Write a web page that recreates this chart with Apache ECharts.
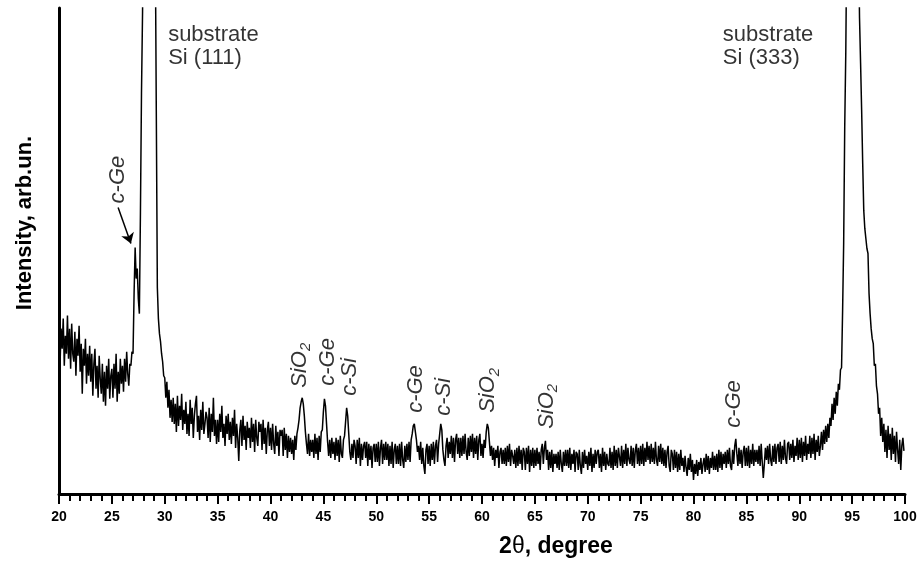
<!DOCTYPE html>
<html>
<head>
<meta charset="utf-8">
<script src="https://cdn.jsdelivr.net/npm/echarts@6/dist/echarts.min.js"></script>
<style>
html,body{margin:0;padding:0;background:#fff;}
#chart{width:924px;height:572px;}
</style>
</head>
<body>
<div id="chart"></div>
<script>
// XRD scan: 2θ from 20° in 0.1° steps, intensity in arbitrary units
const startAngle = 20;
const angleStep = 0.1;
const intensity = [
180,130,165,145,175,128,158,140,178,135,
165,125,170,140,132,162,118,155,138,168,
122,150,100,145,128,155,110,140,118,148,
112,140,98,130,145,105,128,96,138,115,
100,130,92,122,88,128,105,135,95,118,
125,96,130,105,140,92,122,100,135,110,
128,102,135,112,142,120,108,130,128,142,
140,200,246,215,225,195,180,280,400,480,
620,900,1300,1800,2500,3000,2600,2000,1400,1000,
800,560,383,206,175,160,152,140,132,118,
116,96,112,86,104,76,94,72,96,70,
90,62,98,68,88,74,100,64,84,70,
92,60,80,58,94,70,86,56,78,90,
98,62,78,54,84,64,92,60,70,82,
76,56,86,52,80,62,96,58,74,50,
74,52,80,62,88,56,70,48,78,60,
80,54,72,50,76,58,84,46,70,56,
33,64,74,48,78,54,68,44,72,56,
66,46,76,52,70,42,74,56,48,72,
62,70,44,74,50,66,40,64,72,48,
66,44,70,50,40,68,48,62,38,64,
58,64,38,66,44,60,36,58,42,56,
40,54,34,58,44,60,66,74,86,92,
96,90,78,62,50,40,60,38,54,42,
54,36,60,40,56,34,58,42,62,64,
82,95,88,70,52,38,54,36,56,40,
52,34,56,38,54,32,58,40,36,54,
58,72,86,78,60,42,34,50,36,54,
48,30,54,36,56,28,50,34,48,52,
36,52,28,50,34,48,26,46,50,32,
50,32,52,28,46,54,30,50,34,52,
34,50,28,48,30,52,26,44,50,30,
48,30,50,28,52,34,26,48,32,50,
34,52,32,54,60,68,70,62,54,42,
48,34,52,30,46,28,20,44,50,30,
48,28,50,34,52,30,48,54,32,50,
60,70,64,44,34,28,48,56,36,52,
40,58,36,56,32,54,60,40,56,36,
56,38,58,40,60,42,34,56,38,58,
42,60,36,56,40,58,34,54,60,38,
50,36,54,46,62,70,66,52,38,48,
34,46,28,44,36,48,26,42,46,30,
44,30,46,28,48,32,50,28,44,38,
30,44,26,46,28,48,30,44,24,46,
42,24,46,30,48,22,44,28,46,26,
44,28,46,30,42,24,44,50,30,46,
53,34,44,24,42,26,44,22,40,30,
40,26,42,24,44,30,22,42,28,44,
28,44,26,46,24,40,30,44,22,42,
40,24,44,28,20,42,26,44,30,38,
24,42,28,46,22,40,26,44,30,42,
44,26,40,22,46,28,42,24,40,30,
28,46,26,42,24,48,28,44,26,46,
46,28,48,26,44,30,50,28,46,34,
30,48,28,46,26,44,50,30,46,28,
48,30,50,28,46,32,52,34,48,30,
50,32,46,30,52,34,28,48,32,50,
30,46,28,44,26,42,48,28,22,44,
40,24,44,26,42,22,40,24,44,28,
36,22,38,26,18,36,24,40,22,34,
14,30,20,34,18,32,24,36,20,30,
36,22,40,24,38,20,36,26,42,24,
38,24,40,22,44,26,42,24,40,30,
42,26,44,30,46,28,24,44,30,48,
55,40,28,46,30,44,26,42,48,28,
46,28,48,26,44,30,50,28,44,32,
44,30,48,28,50,32,16,30,46,34,
48,30,50,34,28,48,32,50,30,46,
50,32,52,30,48,34,54,36,30,50,
52,34,50,36,54,32,48,38,56,34,
54,36,56,32,52,38,58,34,50,40,
58,36,56,40,60,34,54,42,58,38,
48,62,44,64,50,68,52,70,56,76,
68,90,74,96,80,102,88,110,104,124,
126,183,250,366,440,560,900,1500,2500,3500,
4000,3600,2800,2000,1300,800,560,475,430,383,
330,283,265,255,245,240,200,180,165,155,
150,128,130,108,100,80,86,58,76,52,
70,42,64,36,68,44,60,34,66,40,
58,32,62,44,30,54,24,48,56,43
];

// x axis ticks
const xMin = 20, xMax = 100, xMajor = 5;
const yMax = 485;

// peak annotations (rotated), anchored at the start of the text
const peakLabelText = ['c-Ge', 'SiO{s|2}', 'c-Ge', 'c-Si', 'c-Ge', 'c-Si', 'SiO{s|2}', 'SiO{s|2}', 'c-Ge'];
const peakLabelAngle = [25.6, 42.8, 45.4, 47.55, 53.7, 56.35, 60.6, 66.1, 83.8];
const peakLabelLevel = [290, 106, 108, 98, 81, 78, 81, 65, 66];

// substrate annotations
const substrateText = ['substrate\nSi (111)', 'substrate\nSi (333)'];
const substrateAngle = [30.32, 82.77];
const substrateLevel = [470, 470];

// arrow from c-Ge label to the c-Ge peak
const arrowFrom = [25.59, 286];
const arrowTo = [26.8, 250];

const lineData = intensity.map((v, i) => [+(startAngle + i * angleStep).toFixed(1), v]);

const FONT = '"Liberation Sans", Arial, sans-serif';

const chart = echarts.init(document.getElementById('chart'), null, {renderer: 'canvas'});
chart.setOption({
  animation: false,
  backgroundColor: '#fff',
  grid: {left: 59, right: 19, top: 8, bottom: 78, containLabel: false},
  xAxis: {
    type: 'value', min: xMin, max: xMax, interval: xMajor,
    axisLine: {show: true, lineStyle: {color: '#000', width: 3}},
    axisTick: {show: true, length: 10, lineStyle: {color: '#000', width: 2}},
    minorTick: {show: true, splitNumber: 5, length: 7, lineStyle: {color: '#000', width: 2}},
    axisLabel: {color: '#000', fontFamily: FONT, fontWeight: 'bold', fontSize: 14, margin: 16},
    splitLine: {show: false}
  },
  yAxis: {
    type: 'value', min: 0, max: yMax,
    axisLine: {show: true, lineStyle: {color: '#000', width: 3}},
    axisTick: {show: false},
    axisLabel: {show: false},
    splitLine: {show: false}
  },
  graphic: [
    {type: 'text', x: 25, y: 223, rotation: Math.PI / 2,
     style: {text: 'Intensity, arb.un.', font: 'bold 22px ' + FONT, fill: '#000', align: 'center', verticalAlign: 'middle'}},
    {type: 'text', x: 556, y: 547,
     style: {text: '{a|2}{t|θ}{a|, degree}', fill: '#000', align: 'center', verticalAlign: 'middle',
       rich: {a: {font: 'bold 23px ' + FONT, fill: '#000'}, t: {font: '23px ' + FONT, fill: '#000'}}}}
  ],
  series: [
    {
      type: 'line', data: lineData, showSymbol: false, symbol: 'none', clip: true,
      lineStyle: {color: '#000', width: 1.5}
    },
    {
      type: 'scatter', symbolSize: 1, itemStyle: {color: 'rgba(0,0,0,0)'}, silent: true,
      data: peakLabelAngle.map((a, i) => ({value: [a, peakLabelLevel[i]], name: peakLabelText[i]})),
      label: {
        show: true, position: 'inside', rotate: 90, align: 'left', verticalAlign: 'middle',
        formatter: p => p.name, color: '#000', fontFamily: FONT, fontStyle: 'italic', fontSize: 22,
        rich: {s: {fontFamily: FONT, fontStyle: 'italic', fontSize: 15, verticalAlign: 'bottom', padding: [12, 0, 0, 0], color: '#000'}}
      },
      markLine: {
        silent: true, animation: false,
        symbol: ['none', 'arrow'], symbolSize: 10,
        lineStyle: {color: '#000', width: 1.5, type: 'solid'},
        label: {show: false},
        data: [[{coord: arrowFrom}, {coord: arrowTo}]]
      }
    },
    {
      type: 'scatter', symbolSize: 1, itemStyle: {color: 'rgba(0,0,0,0)'}, silent: true,
      data: substrateAngle.map((a, i) => ({value: [a, substrateLevel[i]], name: substrateText[i]})),
      label: {
        show: true, position: 'inside', align: 'left', verticalAlign: 'top',
        formatter: p => p.name, color: '#000', fontFamily: FONT, fontSize: 22, lineHeight: 23
      }
    }
  ]
});
</script>
</body>
</html>
